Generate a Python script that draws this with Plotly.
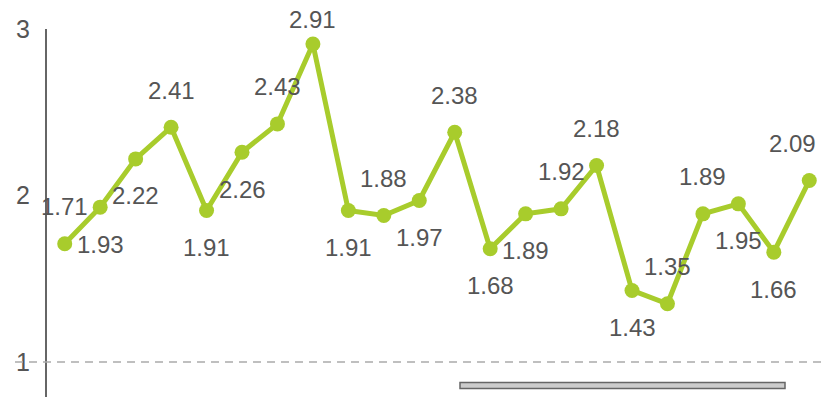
import plotly.graph_objects as go

values = [1.71, 1.93, 2.22, 2.41, 1.91, 2.26, 2.43, 2.91, 1.91, 1.88, 1.97,
          2.38, 1.68, 1.89, 1.92, 2.18, 1.43, 1.35, 1.89, 1.95, 1.66, 2.09]
label_side = ["above", "below", "below", "above", "below", "below", "above",
              "above", "below", "above", "below", "above", "below", "below",
              "above", "above", "below", "above", "above", "below", "below", "above"]
x = list(range(len(values)))
y_ticks = [1, 2, 3]

green = "#a8cc2c"
txt = "#555555"
font_family = "Liberation Sans, Arial, sans-serif"

fig = go.Figure()
fig.add_trace(go.Scatter(
    x=x, y=values, mode="lines+markers",
    line=dict(color=green, width=5),
    marker=dict(color=green, size=15),
    hoverinfo="skip", showlegend=False, cliponaxis=False,
))

n = len(values)
for i, (xi, v, side) in enumerate(zip(x, values, label_side)):
    shift = 37 if side == "above" else -37
    if v > 2.8:  # keep the top label inside the canvas
        shift = 24
    kw = {}
    if i == n - 1:  # keep the last label inside the right edge
        kw = dict(xanchor="right", xshift=9)
    fig.add_annotation(
        x=xi, y=v, xref="x", yref="y", text=f"{v:.2f}", showarrow=False,
        yshift=shift, font=dict(family=font_family, size=24, color=txt), **kw,
    )

# dashed reference line at y=1
fig.add_shape(type="line", xref="paper", yref="y", x0=-0.041, x1=1.0, y0=1, y1=1,
              line=dict(color="#aaaaaa", width=1.5, dash="8px,6px"), layer="above")
# scroll indicator at bottom
fig.add_shape(type="rect", xref="paper", yref="paper",
              x0=(460 - 47) / 780, x1=(785 - 47) / 780,
              y0=(397 - 388.5) / 368, y1=(397 - 382.5) / 368,
              line=dict(color="#666666", width=1.5), fillcolor="#cccccc")

fig.update_layout(
    width=827, height=397,
    margin=dict(l=47, r=0, t=29, b=0),
    paper_bgcolor="white", plot_bgcolor="white",
    font=dict(family=font_family, color=txt),
    xaxis=dict(range=[-0.5, 21.5], showgrid=False, zeroline=False,
               showticklabels=False, showline=False, fixedrange=True),
    yaxis=dict(range=[0.79, 3.0], tickmode="array", tickvals=y_ticks,
               ticktext=[str(t) for t in y_ticks],
               showgrid=False, zeroline=False, showline=True, linecolor="#666666",
               linewidth=2, ticks="outside", ticklen=10, tickcolor="rgba(0,0,0,0)",
               tickfont=dict(family=font_family, size=25, color=txt),
               automargin=False, fixedrange=True),
)

fig.write_html("out.html", config={"displayModeBar": False})
